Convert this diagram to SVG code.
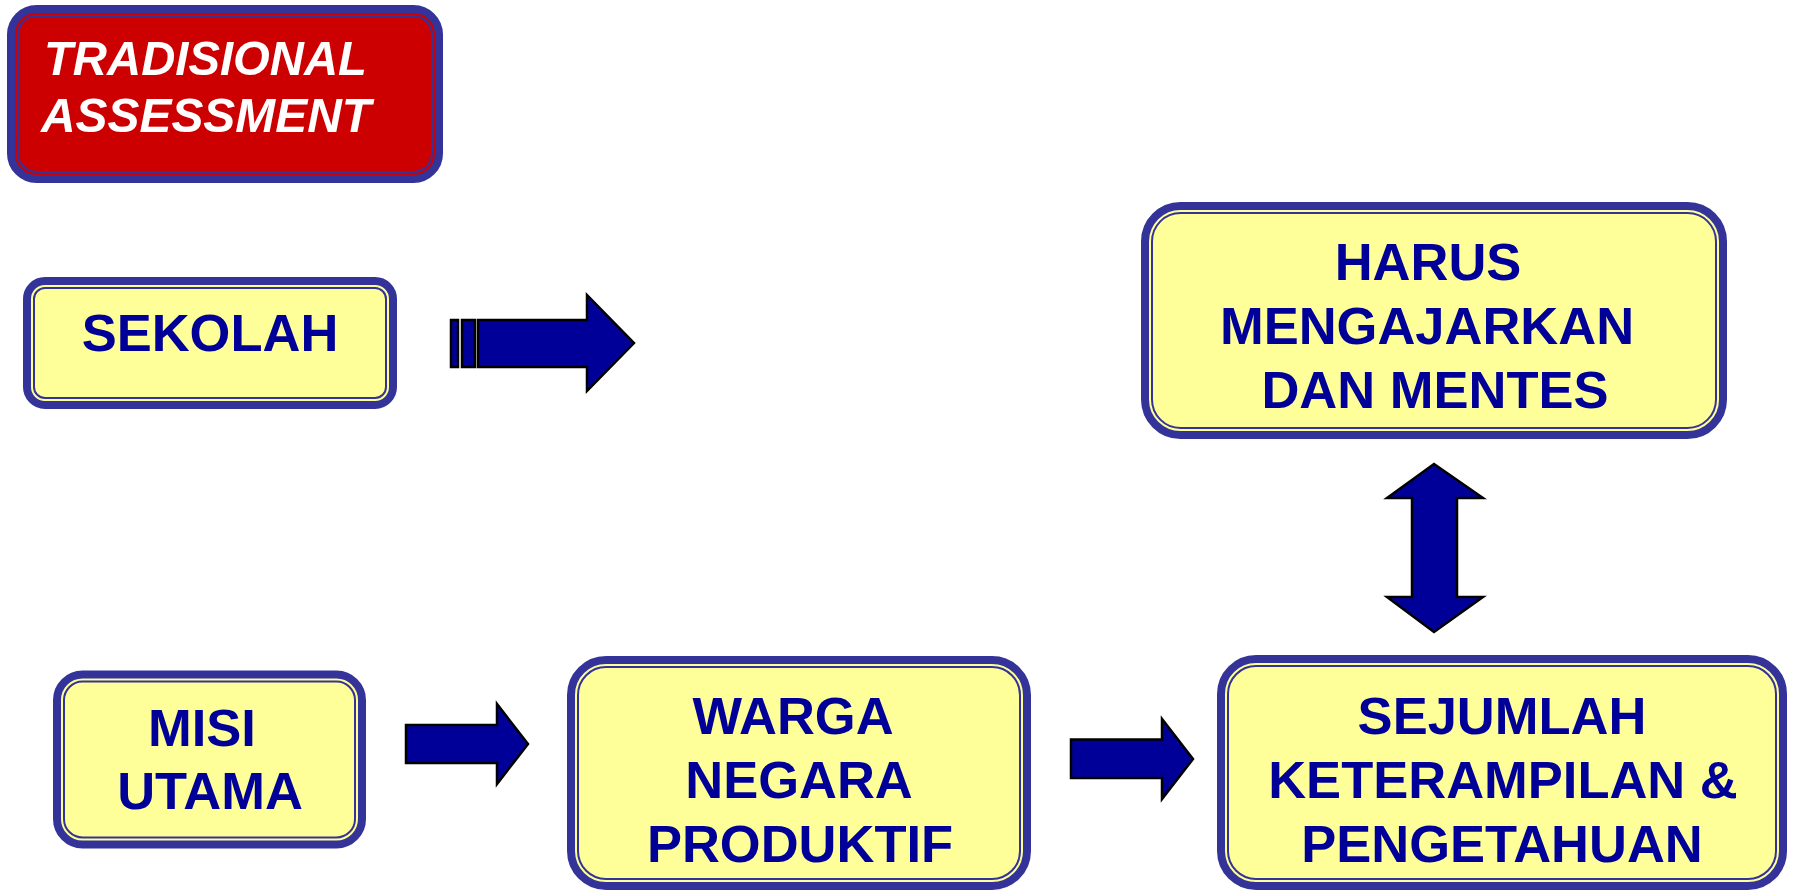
<svg xmlns="http://www.w3.org/2000/svg" width="1793" height="891" viewBox="0 0 1793 891">
<style>
.outer{fill:#FFFF99;stroke:#333399;stroke-width:8}
.inner{fill:none;stroke:#333399;stroke-width:2}
.red{fill:#CC0000}
.t{font-family:"Liberation Sans",Arial,sans-serif;font-weight:bold;font-size:52.5px;fill:#000099;text-anchor:middle}
.ti{font-family:"Liberation Sans",Arial,sans-serif;font-weight:bold;font-style:italic;font-size:49px;fill:#FFFFFF}
.arr{fill:#000099;stroke:#000000;stroke-width:2.5;stroke-linejoin:miter}
</style>
<rect width="1793" height="891" fill="#FFFFFF"/>
<g id="tradisional">
<rect class="outer red" x="11" y="9" width="428" height="170" rx="25.6"/>
<rect class="inner" x="18" y="16" width="414" height="156" rx="18.6"/>
<text class="ti" x="44" y="75" textLength="323" lengthAdjust="spacingAndGlyphs">TRADISIONAL</text>
<text class="ti" x="41" y="132" textLength="330" lengthAdjust="spacingAndGlyphs">ASSESSMENT</text>
</g>
<g id="sekolah">
<rect class="outer" x="27" y="281" width="366" height="124" rx="18"/>
<rect class="inner" x="34" y="288" width="352" height="110" rx="11"/>
<text class="t" x="210" y="351">SEKOLAH</text>
</g>
<g id="harus">
<rect class="outer" x="1145" y="206" width="578" height="229" rx="35.5"/>
<rect class="inner" x="1152" y="213" width="564" height="215" rx="28.5"/>
<text class="t" x="1428" y="280">HARUS</text>
<text class="t" x="1427" y="344">MENGAJARKAN</text>
<text class="t" x="1435" y="408">DAN MENTES</text>
</g>
<g id="misi">
<rect class="outer" x="57" y="674.5" width="305" height="170" rx="25.6"/>
<rect class="inner" x="64" y="681.5" width="291" height="156" rx="18.6"/>
<text class="t" x="202" y="746">MISI</text>
<text class="t" x="210" y="809">UTAMA</text>
</g>
<g id="warga">
<rect class="outer" x="571" y="660" width="456" height="226" rx="35"/>
<rect class="inner" x="578" y="667" width="442" height="212" rx="28"/>
<text class="t" x="793" y="734">WARGA</text>
<text class="t" x="799" y="798">NEGARA</text>
<text class="t" x="800" y="862">PRODUKTIF</text>
</g>
<g id="sejumlah">
<rect class="outer" x="1221" y="659" width="562" height="227" rx="35"/>
<rect class="inner" x="1228" y="666" width="548" height="213" rx="28"/>
<text class="t" x="1502" y="734">SEJUMLAH</text>
<text class="t" x="1503" y="798">KETERAMPILAN &amp;</text>
<text class="t" x="1502" y="862">PENGETAHUAN</text>
</g>
<g id="connectors">
<rect class="arr" x="451" y="320" width="7" height="47"/>
<rect class="arr" x="462" y="320" width="13" height="47"/>
<polygon class="arr" points="478,320 587,320 587,295 634,343 587,391 587,367 478,367"/>
<polygon class="arr" points="1434,464 1483,498 1457,498 1457,597 1483,597 1434,632 1387,597 1412,597 1412,498 1387,498"/>
<polygon class="arr" points="406,725 497,725 497,704 528,744 497,784 497,763 406,763"/>
<polygon class="arr" points="1071,739.5 1162,739.5 1162,719 1193,759 1162,799 1162,778 1071,778"/>
</g>
</svg>
